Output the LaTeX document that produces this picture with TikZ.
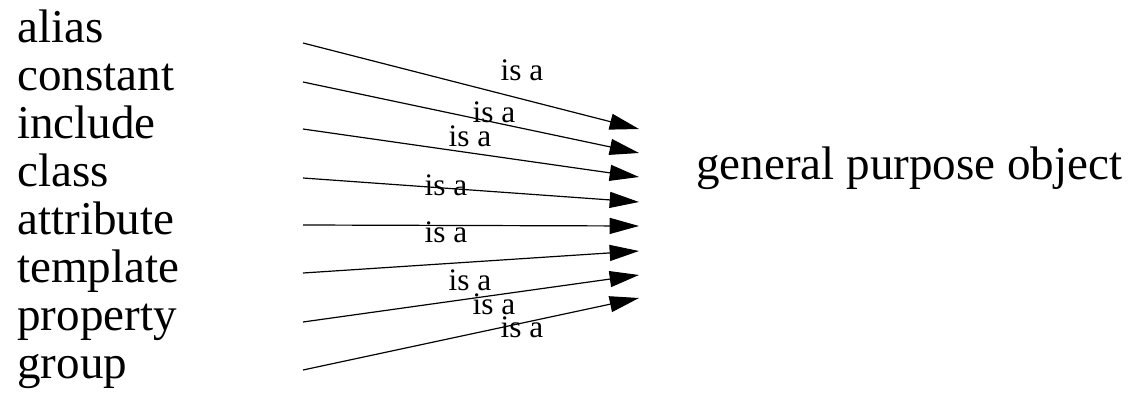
\documentclass[tikz,border=0pt]{standalone}
\usepackage{fontspec}
\setmainfont{Liberation Serif}
\usetikzlibrary{arrows.meta}
\begin{document}
\begin{tikzpicture}[x=0.75pt,y=-0.75pt,
  item/.style={anchor=base west,inner sep=0pt,font=\fontsize{35.3}{40}\selectfont},
  rel/.style={anchor=base,inner sep=0pt,font=\fontsize{23.5}{26}\selectfont},
  isa/.style={line width=0.9pt,-{Triangle[length=22pt,width=12pt]}}]
\useasboundingbox (0,0) rectangle (1135,393);
% source nodes
\node[item] (alias) at (17,42) {alias};
\node[item] (constant) at (17,90) {constant};
\node[item] (include) at (17,138) {include};
\node[item] (class) at (17,186) {class};
\node[item] (attribute) at (17,234) {attribute};
\node[item] (template) at (17,282) {template};
\node[item] (property) at (17,330) {property};
\node[item] (group) at (17,378) {group};
% target node
\node[item] (gpo) at (696,179) {general purpose object};
% connector ends
\coordinate (s1) at (303,43);
\coordinate (s2) at (303,82);
\coordinate (s3) at (303,129);
\coordinate (s4) at (303,178);
\coordinate (s5) at (303,225);
\coordinate (s6) at (303,273);
\coordinate (s7) at (303,322);
\coordinate (s8) at (303,370);
\coordinate (t1) at (639,129);
\coordinate (t2) at (639,153);
\coordinate (t3) at (639,177);
\coordinate (t4) at (639,202);
\coordinate (t5) at (639,226);
\coordinate (t6) at (639,251);
\coordinate (t7) at (639,275);
\coordinate (t8) at (639,298);
% connectors
\draw[isa] (s1) -- (t1);
\draw[isa] (s2) -- (t2);
\draw[isa] (s3) -- (t3);
\draw[isa] (s4) -- (t4);
\draw[isa] (s5) -- (t5);
\draw[isa] (s6) -- (t6);
\draw[isa] (s7) -- (t7);
\draw[isa] (s8) -- (t8);
% labels
\node[rel] (l1) at (522,80) {is a};
\node[rel] (l2) at (494,122.7) {is a};
\node[rel] (l3) at (470,146.7) {is a};
\node[rel] (l4) at (446,195) {is a};
\node[rel] (l5) at (446,242.7) {is a};
\node[rel] (l6) at (470,290) {is a};
\node[rel] (l7) at (494,314) {is a};
\node[rel] (l8) at (522,337.7) {is a};
\end{tikzpicture}
\end{document}
